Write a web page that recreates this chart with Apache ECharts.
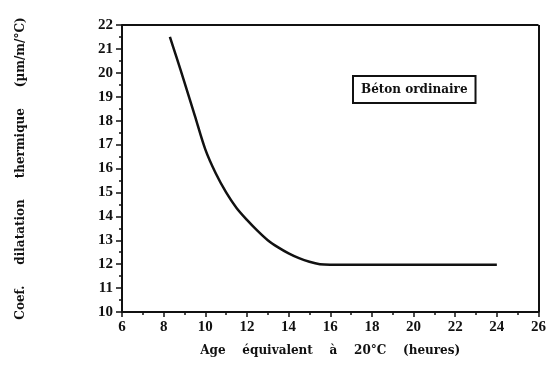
<!DOCTYPE html>
<html><head><meta charset="utf-8">
<script src="https://cdn.jsdelivr.net/npm/echarts@6/dist/echarts.min.js"></script>
<style>html,body{margin:0;padding:0;background:#fff}#c{width:549px;height:370px}</style>
</head><body><div id="c"></div>
<script>
var ageHours = [8.3, 8.6, 9.0, 9.5, 10.0, 10.5, 11.0, 11.5, 12.0, 12.5, 13.0, 13.5, 14.0, 14.5, 15.0, 15.5, 16.0, 17.0, 18.0, 19.0, 20.0, 21.0, 22.0, 23.0, 24.0];
var coefValues = [21.5, 20.7, 19.6, 18.2, 16.8, 15.8, 15.0, 14.35, 13.85, 13.4, 13.0, 12.7, 12.45, 12.25, 12.1, 12.0, 11.98, 11.98, 11.98, 11.98, 11.98, 11.98, 11.98, 11.98, 11.98];
var xTicks = [6, 8, 10, 12, 14, 16, 18, 20, 22, 24, 26];
var yTicks = [10, 11, 12, 13, 14, 15, 16, 17, 18, 19, 20, 21, 22];
var legendLabel = 'Béton ordinaire';
var xTitle = 'Age    équivalent    à    20°C    (heures)';
var yTitle = 'Coef.     dilatation     thermique     (µm/m/°C)';

var chart = echarts.init(document.getElementById('c'));
var font = 'Liberation Serif';
var tfont = 'DejaVu Serif';
chart.setOption({
  animation: false,
  backgroundColor: '#fff',
  grid: {left: 122, right: 8, top: 25, bottom: 58},
  xAxis: {
    type: 'value', min: xTicks[0], max: xTicks[xTicks.length-1], interval: 2,
    axisLine: {lineStyle: {color: '#111', width: 2}},
    axisTick: {show: true, length: 5, lineStyle: {color: '#111', width: 1.5}},
    minorTick: {show: true, splitNumber: 2, length: 3, lineStyle: {color: '#111', width: 1.5}},
    splitLine: {show: false},
    axisLabel: {color: '#111', fontFamily: font, fontWeight: 'bold', fontSize: 15, margin: 8},
    name: xTitle, nameLocation: 'middle', nameGap: 33,
    nameTextStyle: {color: '#111', fontFamily: tfont, fontWeight: 'bold', fontSize: 12}
  },
  yAxis: {
    type: 'value', min: yTicks[0], max: yTicks[yTicks.length-1], interval: 1,
    axisLine: {lineStyle: {color: '#111', width: 2}},
    axisTick: {show: true, length: 6, lineStyle: {color: '#111', width: 1.5}},
    minorTick: {show: true, splitNumber: 2, length: 3, lineStyle: {color: '#111', width: 1.5}},
    splitLine: {show: false},
    axisLabel: {color: '#111', fontFamily: font, fontWeight: 'bold', fontSize: 15, margin: 9},
    name: yTitle, nameLocation: 'middle', nameGap: 95,
    nameTextStyle: {color: '#111', fontFamily: tfont, fontWeight: 'bold', fontSize: 12}
  },
  series: [{
    type: 'line', smooth: 0.3, symbol: 'none',
    lineStyle: {color: '#111', width: 2.5},
    data: ageHours.map(function(x, i){ return [x, coefValues[i]]; }),
    markLine: {silent: true, symbol: 'none', label: {show: false},
      lineStyle: {color: '#111', width: 2, type: 'solid'},
      data: [[{xAxis: 26, yAxis: 10}, {xAxis: 26, yAxis: 22}], [{xAxis: 6, yAxis: 22}, {xAxis: 26, yAxis: 22}]]}
  }],
  graphic: [{
    type: 'text', left: 352, top: 75,
    style: {text: legendLabel, fill: '#111', font: 'bold 12px "DejaVu Serif"',
      backgroundColor: '#fff', borderColor: '#111', borderWidth: 2, padding: [7, 7, 6, 7]}
  }]
});
</script></body></html>
